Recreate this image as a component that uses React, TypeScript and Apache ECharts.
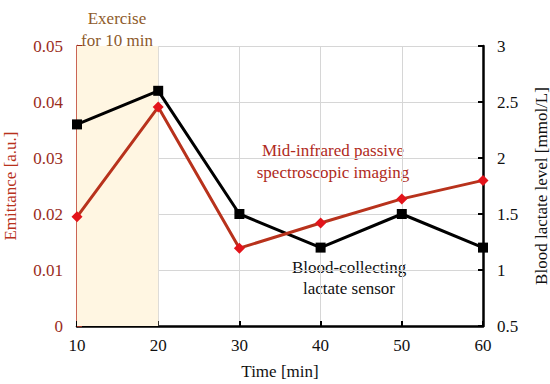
import React, { useEffect, useRef } from "react";
import * as echarts from "echarts";

const times = [10, 20, 30, 40, 50, 60];
const emittance = [0.0195, 0.0391, 0.0139, 0.0184, 0.0227, 0.026];
const lactate = [2.3, 2.6, 1.5, 1.2, 1.5, 1.2];
const exerciseRange = [10, 20];

const FONT = "Liberation Serif";
const RED = "#b8321c";
const MARK_RED = "#e3141b";
const LABEL_RED = "#9a2c1c";

export default function App() {
  const ref = useRef<HTMLDivElement>(null);
  useEffect(() => {
    if (!ref.current) return;
    const chart = echarts.init(ref.current, undefined, { renderer: "svg" });
    const fmt = (v: number) => String(+v.toFixed(2));
    chart.setOption({
      animation: false,
      textStyle: { fontFamily: FONT },
      grid: { left: 77, right: 67, top: 46, bottom: 58, containLabel: false, outerBoundsMode: "none" },
      xAxis: {
        type: "value",
        min: 10,
        max: 60,
        interval: 10,
        name: "Time [min]",
        nameLocation: "middle",
        nameGap: 37,
        nameTextStyle: { fontFamily: FONT, fontSize: 17, color: "#111" },
        axisLine: { show: true, lineStyle: { color: "#000", width: 2.5 } },
        axisTick: { show: true, inside: true, length: 5, lineStyle: { color: "#000", width: 2 } },
        axisLabel: { fontFamily: FONT, fontSize: 17, color: "#111", margin: 11 },
        splitLine: { show: true, lineStyle: { color: "#d6d6d6", width: 1 } },
      },
      yAxis: [
        {
          type: "value",
          min: 0,
          max: 0.05,
          interval: 0.01,
          position: "left",
          name: "Emittance [a.u.]",
          nameLocation: "middle",
          nameGap: 58,
          nameTextStyle: { fontFamily: FONT, fontSize: 17, color: RED },
          axisLine: { show: true, onZero: false, lineStyle: { color: RED, width: 2.5 } },
          axisTick: { show: true, inside: true, length: 5, lineStyle: { color: LABEL_RED, width: 2 } },
          axisLabel: { fontFamily: FONT, fontSize: 17, color: LABEL_RED, margin: 14, formatter: fmt },
          splitLine: { show: true, lineStyle: { color: "#d6d6d6", width: 1 } },
        },
        {
          type: "value",
          min: 0.5,
          max: 3,
          interval: 0.5,
          position: "right",
          name: "Blood lactate level [mmol/L]",
          nameLocation: "middle",
          nameGap: 50,
          nameTextStyle: { fontFamily: FONT, fontSize: 17, color: "#111" },
          axisLine: { show: true, onZero: false, lineStyle: { color: "#000", width: 2.5 } },
          axisTick: { show: true, inside: true, length: 5, lineStyle: { color: "#000", width: 2 } },
          axisLabel: { fontFamily: FONT, fontSize: 17, color: "#111", margin: 14, formatter: fmt },
          splitLine: { show: false },
        },
      ],
      series: [
        {
          type: "line",
          yAxisIndex: 1,
          data: times.map((t, i) => [t, lactate[i]]),
          symbol: "rect",
          symbolSize: 10,
          lineStyle: { color: "#000", width: 3 },
          itemStyle: { color: "#000" },
          z: 3,
          markArea: {
            silent: true,
            itemStyle: { color: "#fff6e2", opacity: 1 },
            data: [[{ xAxis: exerciseRange[0] }, { xAxis: exerciseRange[1] }]],
          },
        },
        {
          type: "line",
          yAxisIndex: 0,
          data: times.map((t, i) => [t, emittance[i]]),
          symbol: "diamond",
          symbolSize: 11,
          lineStyle: { color: RED, width: 3 },
          itemStyle: { color: MARK_RED },
          z: 4,
        },
      ],
      graphic: [
        {
          type: "text",
          x: 117,
          y: 29,
          style: {
            text: "Exercise\nfor 10 min",
            fontFamily: FONT,
            fontSize: 17,
            fill: "#8e5a2a",
            textAlign: "center",
            textVerticalAlign: "middle",
            lineHeight: 22,
          },
        },
        {
          type: "text",
          x: 333,
          y: 161,
          style: {
            text: "Mid-infrared passive\nspectroscopic imaging",
            fontFamily: FONT,
            fontSize: 17,
            fill: "#b02a1c",
            textAlign: "center",
            textVerticalAlign: "middle",
            lineHeight: 22,
          },
        },
        {
          type: "text",
          x: 349,
          y: 278,
          style: {
            text: "Blood-collecting\nlactate sensor",
            fontFamily: FONT,
            fontSize: 17,
            fill: "#111",
            textAlign: "center",
            textVerticalAlign: "middle",
            lineHeight: 21,
          },
        },
      ],
    });
    return () => chart.dispose();
  }, []);
  return <div ref={ref} style={{ width: 550, height: 384, position: "absolute", left: 0, top: 0 }} />;
}
